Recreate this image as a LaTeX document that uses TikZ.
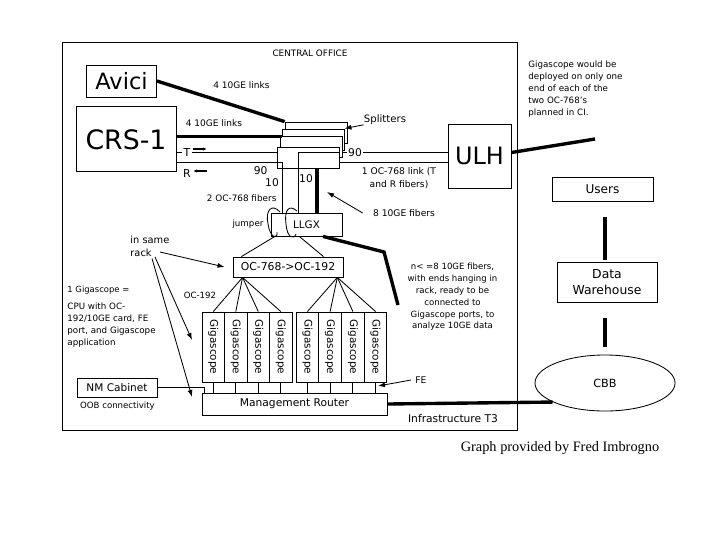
\documentclass[tikz,border=0pt]{standalone}
\usepackage{fontspec}
\usepackage{graphicx}
\setmainfont{DejaVu Sans}
\newfontfamily\creditfont{Liberation Serif}
\usetikzlibrary{arrows.meta,shapes.geometric,calc,positioning}
\newcommand{\fsz}[2]{\fontsize{#1pt}{#2pt}\selectfont}

\begin{document}
\begin{tikzpicture}[x=0.025cm, y=-0.025cm, line width=0.6pt,
    box/.style={draw, fill=white, inner sep=0pt},
    fat/.style={line width=2.4pt},
    arr/.style={-{Latex[length=5pt,width=3.5pt]}},
    tick/.style={line width=1.3pt, -{Latex[length=3pt,width=2.5pt]}},
    txt/.style={inner sep=0pt}]
  \useasboundingbox (0,0) rectangle (720,540);
  \draw (62,42) rectangle (517,430);
  \node[txt, font=\fsz{6.3}{6.3}] (co) at (310,53) {CENTRAL OFFICE};

  \node[box, minimum width=1.75cm, minimum height=0.8cm, font=\fsz{16}{16}] (avici) at (121.5,81) {Avici};
  \node[box, minimum width=2.5cm, minimum height=1.62cm, font=\fsz{19}{19}] (crs) at (126,139.3) {CRS-1};
  \node[box, minimum width=1.575cm, minimum height=1.6cm, font=\fsz{17}{17}] (ulh) at (479.5,156) {ULH};

  \coordinate (tlev) at (0,152.5);
  \coordinate (rlev) at (0,162.5);
  \draw (crs.east |- tlev) -- (ulh.west |- tlev);
  \draw (crs.east |- rlev) -- (ulh.west |- rlev);

  \foreach \n/\x/\y in {1/316/132.5, 2/313/139.5, 3/311/146.5, 4/308/157.5}
    \node[box, minimum width=1.55cm, minimum height=0.525cm] (split\n) at (\x,\y) {};
  \draw[fat] (avici.east) -- (split1.north west);
  \draw[fat] ([yshift=0.07cm]crs.east) -- ([yshift=0.07cm]crs.east -| split2.west);

  \node[box, minimum width=1.775cm, minimum height=0.5625cm, font=\fsz{7.4}{7.4}] (llgx) at (306.5,224.75) {LLGX};
  \coordinate (rtap) at (282,162.5);
  \coordinate (ttap) at (298,152.5);
  \coordinate (ftap) at (317,0);
  \draw (split4.west |- rtap) -- (rtap) -- (rtap |- llgx.north);
  \draw (split4.east |- ttap) -- (ttap) -- (ttap |- llgx.north);
  \draw[fat] (ftap |- split4.south) -- (ftap |- llgx.north);
  \draw (280,212) .. controls (272,203) and (265,210) .. (268,224) .. controls (270,238) and (278,240) .. (277,232);
  \draw (297,211) .. controls (289,204) and (284,210) .. (286,224) .. controls (287,238) and (294,240) .. (296,234);

  \node[txt, font=\fsz{6.4}{6.4}] (links1) at (241.5,85) {4 10GE links};
  \node[txt, font=\fsz{6.4}{6.4}] (links2) at (214,122.7) {4 10GE links};
  \node[txt, font=\fsz{7.2}{7.2}] (splt) at (385,119.5) {Splitters};
  \draw[arr] (splt.south west) -- (split2.north east);

  \node[txt, fill=white, inner xsep=1.5pt, font=\fsz{7.8}{7.8}] (tlbl) at (187,152.5) {T};
  \node[txt, font=\fsz{7.8}{7.8}] (rlbl) at (187,173) {R};
  \draw[tick] (193,149) -- (207,149);
  \draw[tick] (207,171) -- (193,171);
  \node[txt, font=\fsz{7.6}{7.6}] (p90a) at (260.7,170.7) {90};
  \node[txt, font=\fsz{7.6}{7.6}] (p10a) at (272,182.7) {10};
  \node[txt, font=\fsz{7.6}{7.6}] (p10b) at (306,178.3) {10};
  \node[txt, fill=white, inner xsep=1pt, font=\fsz{7.6}{7.6}] (p90b) at (355,153) {90};
  \node[txt, font=\fsz{6.3}{6.3}] (fib2) at (241.7,198.3) {2 OC-768 fibers};
  \node[txt, align=center, font=\fsz{6.5}{9.2}] (oclink) at (399,178.5) {1 OC-768 link (T\\and R fibers)};
  \node[txt, font=\fsz{6.5}{6.5}] (fib8) at (404,213) {8 10GE fibers};
  \coordinate (fib8tip) at (327,192);
  \draw[arr] ([xshift=-0.25cm]fib8.west) -- (fib8tip);
  \node[txt, font=\fsz{6.2}{6.2}] (jmp) at (248,224) {jumper};

  \node[box, minimum width=2.75cm, minimum height=0.5cm, font=\fsz{7.7}{7.7}] (oc) at (288,267) {OC-768->OC-192};
  \draw ($(llgx.south west)!0.06!(llgx.south east)$) -- ($(oc.north west)!0.08!(oc.north east)$);
  \draw ($(llgx.south west)!0.4!(llgx.south east)$) -- ($(oc.north west)!0.82!(oc.north east)$);
  \coordinate (bend) at (384,252);
  \coordinate (hang) at (398,305);
  \draw[fat] ($(llgx.south west)!0.73!(llgx.south east)$) -- (bend) -- (hang);

  \foreach \i/\x in {1/213.3,2/235.8,3/258.3,4/280.8,5/307.4,6/330.1,7/352.9,8/375.6}
    \node[box, minimum width=0.56cm, minimum height=1.75cm, font=\fsz{7.4}{7.4}] (g\i) at (\x,347) {\rotatebox{-90}{Gigascope}};
  \coordinate (fana) at ($(oc.south west)!0.09!(oc.south east)$);
  \coordinate (fanb) at ($(oc.south west)!0.945!(oc.south east)$);
  \foreach \i in {1,...,4} \draw (fana) -- (g\i.north);
  \foreach \i in {5,...,8} \draw (fanb) -- (g\i.north);
  \node[txt, font=\fsz{6.1}{6.1}] (oc192) at (200,295) {OC-192};

  \node[box, minimum width=4.625cm, minimum height=0.55cm, font=\fsz{7.6}{7.6}] (router) at (294.5,404) {Management Router};
  \foreach \i in {1,...,8} \draw (g\i.south) -- (g\i.south |- router.north);
  \node[box, minimum width=2cm, minimum height=0.475cm, font=\fsz{7.5}{7.5}] (nm) at (117,387.5) {NM Cabinet};
  \draw (nm.east) -| ($(router.north west)!0.016!(router.north east)$);
  \node[txt, font=\fsz{6.1}{6.1}] (oob) at (117.5,405.7) {OOB connectivity};
  \node[txt, anchor=west, font=\fsz{6}{6}] (onegs) at (67,290) {1 Gigascope =};
  \node[txt, anchor=west, align=left, font=\fsz{6.2}{8.5}] (cpu) at (67,324.7) {CPU with OC-\\192/10GE card, FE\\port, and Gigascope\\application};
  \node[txt, anchor=west, align=left, font=\fsz{7}{9.2}] (rack) at (130,246.5) {in same\\rack};
  \coordinate (rk1) at (160,252);
  \coordinate (rk2) at (155,257);
  \coordinate (rk3) at (152,258.5);
  \coordinate (rk2tip) at (192,340);
  \coordinate (rk3tip) at (192,397);
  \draw[arr] (rk1) -- ($(oc.west)+(-8,0)$);
  \draw[arr] (rk2) -- (rk2tip);
  \draw[arr] (rk3) -- (rk3tip);

  \node[txt, align=center, font=\fsz{6.1}{8.4}] (hangtxt) at (452.5,297) {n< =8 10GE fibers,\\with ends hanging in\\rack, ready to be\\connected to\\Gigascope ports, to\\analyze 10GE data};
  \node[txt, font=\fsz{6.5}{6.5}] (fe) at (421,380) {FE};
  \coordinate (fetip) at (378,386);
  \draw[arr] ($(fe.west)+(-4,0)$) -- (fetip);
  \node[txt, font=\fsz{7.6}{7.6}] (t3) at (453,419) {Infrastructure T3};

  \node[box, minimum width=2.525cm, minimum height=0.6cm, font=\fsz{8.6}{8.6}] (users) at (602.5,189) {Users};
  \node[box, minimum width=2.5cm, minimum height=1cm, align=center, font=\fsz{8.8}{11.8}] (dw) at (607,282) {Data\\Warehouse};
  \node[draw, ellipse, inner sep=0pt, minimum width=3.5cm, minimum height=1.4cm, font=\fsz{8}{8}] (cbb) at (605,383) {CBB};
  \draw[fat, shorten <=0.4cm, shorten >=0.05cm] (users.south -| cbb) -- (dw.north -| cbb);
  \draw[fat, shorten <=0.4cm, shorten >=0.2cm] (dw.south -| cbb) -- (cbb.north);
  \draw[fat] (router.east) -- (cbb.200);
  \coordinate (noteend) at (595,139);
  \draw[fat] (ulh.east |- tlev) -- (noteend);
  \node[txt, anchor=west, align=left, font=\fsz{6.2}{8.6}] (note) at (528,89) {Gigascope would be\\deployed on only one\\end of each of the\\two OC-768's\\planned in CI.};
  \node[txt, font=\creditfont\fsz{10.2}{10.2}] (credit) at (560,448) {Graph provided by Fred Imbrogno};
\end{tikzpicture}
\end{document}
